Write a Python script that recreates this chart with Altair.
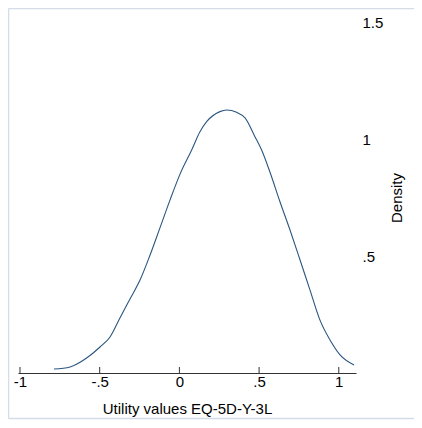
import altair as alt
import pandas as pd

# Density curve
utility = [-0.787, -0.686, -0.582, -0.498, -0.435, -0.373, -0.310, -0.247, -0.184,
           -0.122, -0.059, 0.004, 0.077, 0.129, 0.171, 0.254, 0.297, 0.359, 0.412,
           0.474, 0.516, 0.568, 0.631, 0.694, 0.757, 0.819, 0.882, 0.945, 1.008, 1.096]
density = [0.017, 0.026, 0.064, 0.111, 0.154, 0.235, 0.316, 0.397, 0.504,
           0.620, 0.739, 0.850, 0.953, 1.031, 1.074, 1.117, 1.124, 1.114, 1.090,
           1.010, 0.953, 0.859, 0.732, 0.611, 0.483, 0.355, 0.226, 0.141, 0.077, 0.034]

x_ticks = [-1, -0.5, 0, 0.5, 1]
x_tick_labels = ["-1", "-.5", "0", ".5", "1"]
y_ticks = [0.5, 1, 1.5]
y_tick_labels = [".5", "1", "1.5"]

W, H = 338, 351
FONT = "Liberation Sans"
FS = 15

def label_expr(values, labels):
    expr = "datum.label"
    for v, l in zip(values, labels):
        expr = f"datum.value == {v} ? '{l}' : ({expr})"
    return expr

df = pd.DataFrame({"u": utility, "d": density})
ticks_df = pd.DataFrame({"t": x_ticks})

xscale = alt.Scale(domain=[-1.0125, 1.108], nice=False, zero=False)
yscale = alt.Scale(domain=[0, 1.5], nice=False)

line = alt.Chart(df).mark_line(color="#2a5680", strokeWidth=1.1, interpolate="monotone").encode(
    x=alt.X("u:Q", scale=xscale,
            axis=alt.Axis(values=x_ticks, labelExpr=label_expr(x_ticks, x_tick_labels),
                          title="Utility values EQ-5D-Y-3L", grid=False, ticks=False,
                          domainColor="#333333", domainWidth=1,
                          labelPadding=1, labelFont=FONT, labelFontSize=FS, labelColor="#000000",
                          labelFlush=False, labelOverlap=False,
                          titleFont=FONT, titleFontSize=FS, titleFontWeight="normal",
                          titleColor="#000000", titleY=35, titleBaseline="middle")),
    y=alt.Y("d:Q", scale=yscale,
            axis=alt.Axis(orient="right", values=y_ticks,
                          labelExpr=label_expr(y_ticks, y_tick_labels),
                          title="Density", grid=False, ticks=False, domain=False,
                          labelAlign="left", labelBaseline="middle", labelPadding=6,
                          labelFont=FONT, labelFontSize=FS, labelColor="#000000",
                          labelFlush=False, labelOverlap=False,
                          titleFont=FONT, titleFontSize=FS, titleFontWeight="normal",
                          titleColor="#000000", titleAngle=270, titleX=40, titleY=H / 2,
                          titleAlign="center", titleBaseline="middle")),
)

tick_marks = alt.Chart(ticks_df).mark_rule(color="#333333", strokeWidth=1).encode(
    x=alt.X("t:Q", scale=xscale),
    y=alt.value(H - 6),
    y2=alt.value(H),
)

frame_color = "#d3dce7"
frame_df = pd.DataFrame({"k": [0]})
left_line = alt.Chart(frame_df).mark_rule(color=frame_color, strokeWidth=1.5, clip=False).encode(
    x=alt.value(-9.5), y=alt.value(-13.5), y2=alt.value(396.5))
top_line = alt.Chart(frame_df).mark_rule(color=frame_color, strokeWidth=1.5, clip=False).encode(
    x=alt.value(-9.5), x2=alt.value(400), y=alt.value(-13.5))
bottom_line = alt.Chart(frame_df).mark_rule(color=frame_color, strokeWidth=1.5, clip=False).encode(
    x=alt.value(-9.5), x2=alt.value(400), y=alt.value(396.5))

chart = alt.layer(left_line, top_line, bottom_line, tick_marks, line).properties(
    width=W, height=H,
    autosize=alt.AutoSizeParams(type="none"),
    padding={"left": 10, "top": 14, "right": 58, "bottom": 47},
    background="#ffffff",
).configure_view(stroke=None)

chart.save("out.html", embed_options={"renderer": "svg", "actions": False})
